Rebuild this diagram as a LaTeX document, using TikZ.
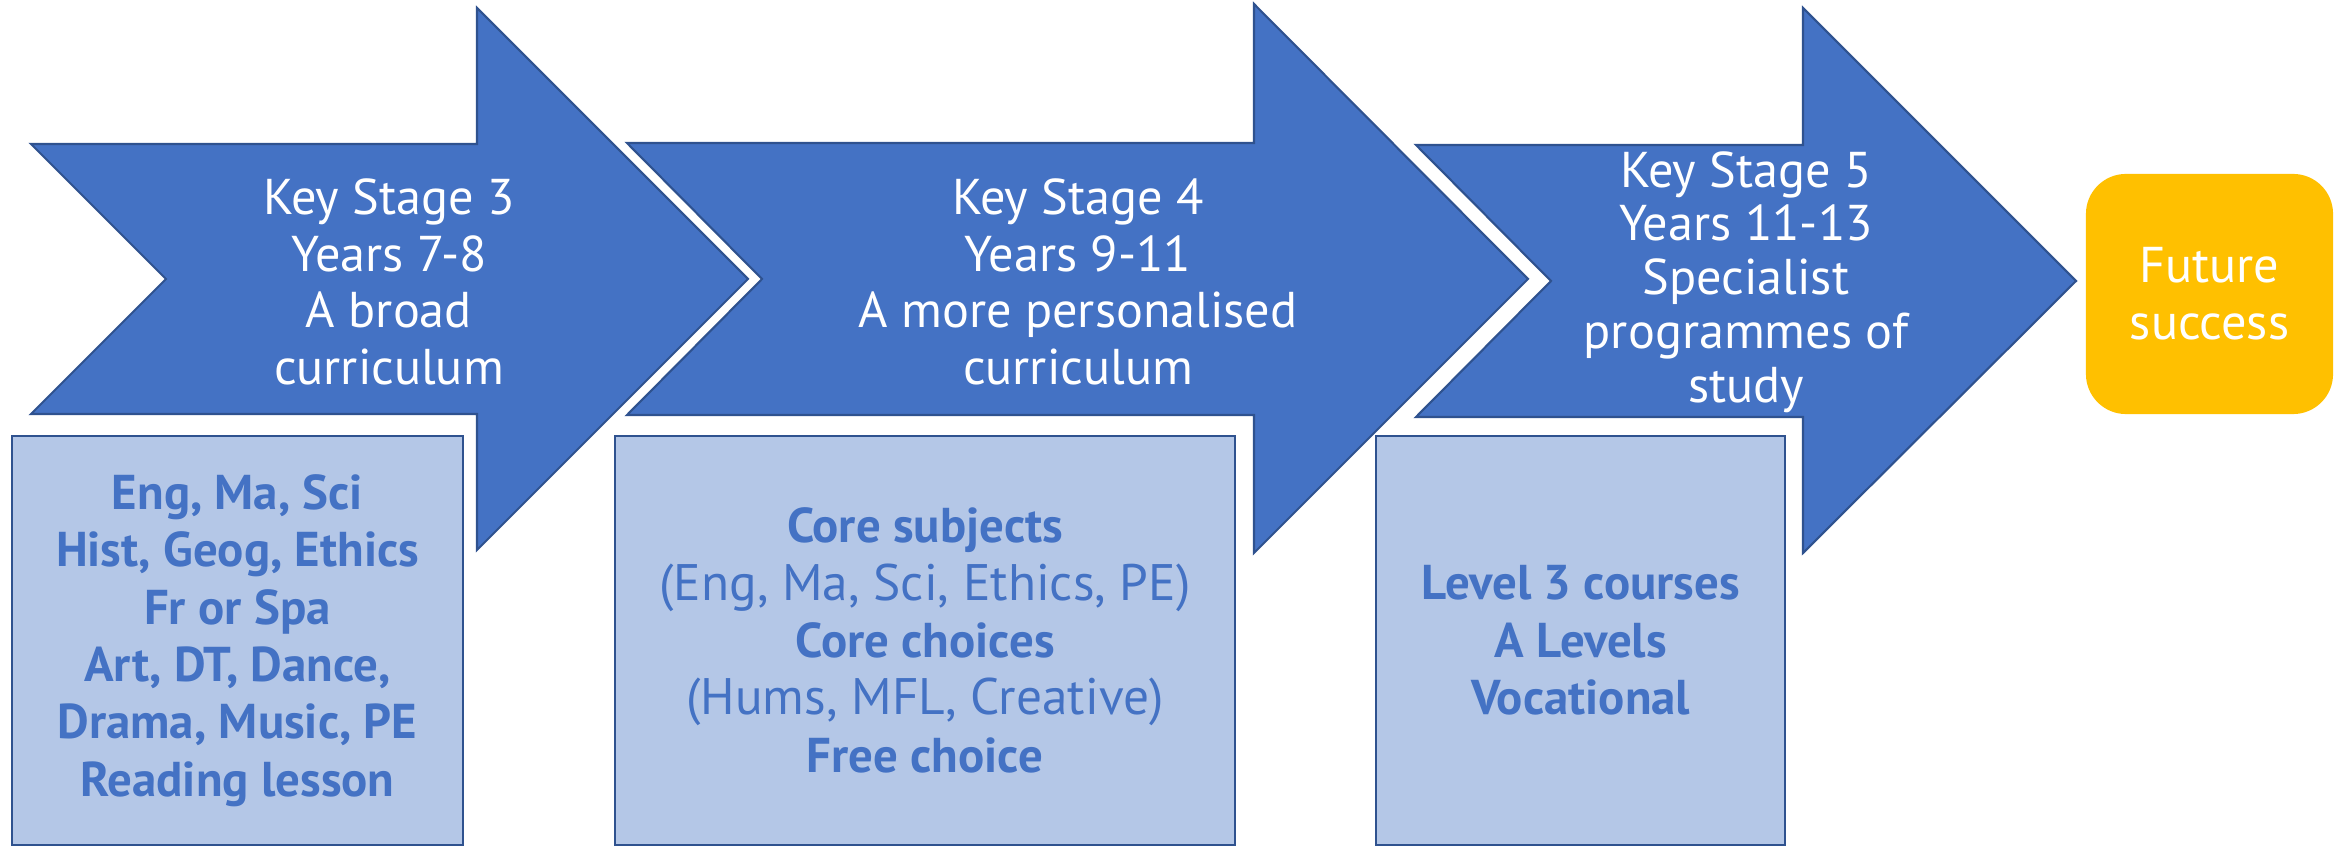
\documentclass[tikz,border=0pt]{standalone}
\usepackage{fontspec}
\setmainfont{PT Sans}
\usepackage{xcolor}
\definecolor{stageblue}{HTML}{4472C4}
\definecolor{stageline}{HTML}{2F528F}
\definecolor{subjfill}{HTML}{B4C7E7}
\definecolor{goalfill}{HTML}{FFC000}

\begin{document}
\begin{tikzpicture}[x=0.01cm,y=-0.01cm,
    stage/.style={fill=stageblue,draw=stageline,line width=0.6pt},
    stagetext/.style={text=white,align=center,font=\fontsize{14.3}{16.1}\selectfont},
    subjects/.style={rectangle,fill=subjfill,draw=stageline,line width=0.6pt,text=stageblue,align=center,
      minimum height=4.09cm,font=\fontsize{13.9}{16.3}\selectfont\bfseries},
    goal/.style={rectangle,rounded corners=0.4cm,fill=goalfill,text=white,align=center,
      minimum width=2.47cm,minimum height=2.4cm,font=\fontsize{14.3}{16.2}\selectfont}]
    \useasboundingbox (0,0) rectangle (2341,846);

    % the three stage arrows
    \draw[stage] (31,144) -- (477,144) -- (477,8) -- (748,279) -- (477,550) -- (477,414) -- (31,414) -- (166,279) -- cycle;
    \draw[stage] (627,143) -- (1254,143) -- (1254,4) -- (1528,279) -- (1254,553) -- (1254,415) -- (627,415) -- (762,279) -- cycle;
    \draw[stage] (1416,145) -- (1803,145) -- (1803,8) -- (2076,281) -- (1803,553) -- (1803,417) -- (1416,417) -- (1551,281) -- cycle;

    \node[stagetext] (ks3) at (389,282) {Key Stage 3\\Years 7-8\\A broad\\curriculum};
    \node[stagetext] (ks4) at (1078,282) {Key Stage 4\\Years 9-11\\A more personalised\\curriculum};
    \node[stagetext,font=\fontsize{14.3}{15.3}\selectfont] (ks5) at (1746,282) {Key Stage 5\\Years 11-13\\Specialist\\programmes of\\study};

    % subject boxes
    \node[subjects,minimum width=4.5cm] (ks3sub) at (237.5,640.5) {Eng, Ma, Sci\\Hist, Geog, Ethics\\Fr or Spa\\Art, DT, Dance,\\Drama, Music, PE\\Reading lesson};
    \node[subjects,minimum width=6.2cm] (ks4sub) at (925,640.5) {Core subjects\\{\mdseries\fontsize{14.6}{16.3}\selectfont (Eng, Ma, Sci, Ethics, PE)}\\Core choices\\{\mdseries\fontsize{14.6}{16.3}\selectfont (Hums, MFL, Creative)}\\Free choice};
    \node[subjects,minimum width=4.085cm] (ks5sub) at (1580.75,640.5) {Level 3 courses\\A Levels\\Vocational};

    \node[goal] (future) at (2209.5,294) {Future\\success};
\end{tikzpicture}
\end{document}
